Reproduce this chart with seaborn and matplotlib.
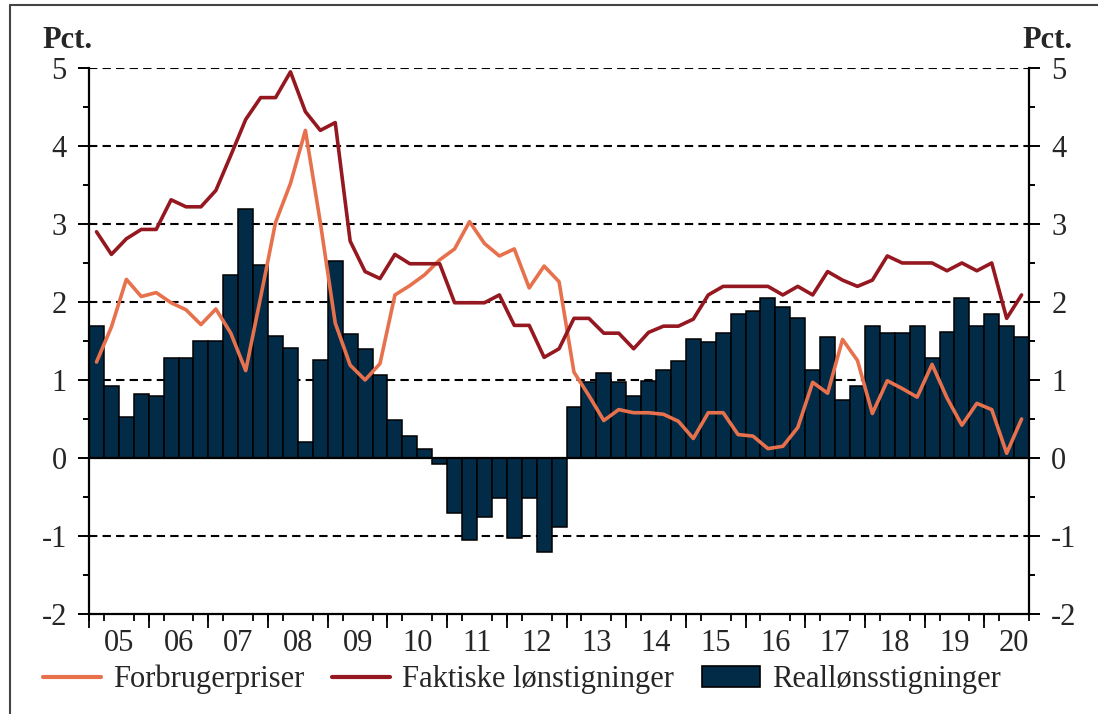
import matplotlib
matplotlib.use("Agg")
import matplotlib.pyplot as plt
from matplotlib.lines import Line2D
from matplotlib.patches import Patch
import numpy as np
import pandas as pd
import seaborn as sns

sns.set_style("ticks")
plt.rcParams['font.family'] = ['Liberation Serif', 'DejaVu Serif']
plt.rcParams['axes.unicode_minus'] = False

# ---------------------------------------------------------------
# Data: quarterly, 2005K1 - 2020K3 (pct. år-til-år)
# ---------------------------------------------------------------
quarters = [f"{y}K{q}" for y in range(2005, 2021) for q in range(1, 5)][:63]

forbrugerpriser = [
    1.23, 1.68, 2.29, 2.07, 2.12, 1.99, 1.90, 1.71, 1.91, 1.60,
    1.12, 2.06, 3.02, 3.52, 4.20, 3.02, 1.73, 1.19, 1.00, 1.21,
    2.09, 2.21, 2.35, 2.54, 2.68, 3.03, 2.75, 2.59, 2.68, 2.18,
    2.46, 2.26, 1.10, 0.80, 0.48, 0.62, 0.58, 0.58, 0.56, 0.47,
    0.25, 0.58, 0.58, 0.30, 0.28, 0.12, 0.15, 0.39, 0.97, 0.83,
    1.52, 1.25, 0.57, 0.99, 0.89, 0.78, 1.20, 0.77, 0.42, 0.70,
    0.62, 0.06, 0.50,
]

faktiske_loen = [
    2.90, 2.61, 2.81, 2.93, 2.93, 3.31, 3.22, 3.22, 3.43, 3.88,
    4.34, 4.62, 4.62, 4.95, 4.44, 4.20, 4.30, 2.78, 2.39, 2.30,
    2.61, 2.49, 2.49, 2.49, 1.99, 1.99, 1.99, 2.09, 1.70, 1.70,
    1.29, 1.40, 1.79, 1.79, 1.60, 1.60, 1.40, 1.61, 1.69, 1.69,
    1.78, 2.09, 2.20, 2.20, 2.20, 2.20, 2.09, 2.20, 2.09, 2.39,
    2.28, 2.20, 2.28, 2.59, 2.50, 2.50, 2.50, 2.40, 2.50, 2.40,
    2.50, 1.79, 2.09,
]

realloen = [
    1.69, 0.92, 0.53, 0.82, 0.79, 1.28, 1.28, 1.50, 1.50, 2.34,
    3.19, 2.47, 1.56, 1.41, 0.21, 1.25, 2.52, 1.59, 1.40, 1.06,
    0.49, 0.285, 0.11, -0.08, -0.71, -1.05, -0.76, -0.51, -1.02, -0.51,
    -1.20, -0.88, 0.65, 0.97, 1.09, 0.98, 0.79, 0.99, 1.13, 1.24,
    1.52, 1.49, 1.60, 1.85, 1.88, 2.05, 1.93, 1.79, 1.13, 1.545,
    0.74, 0.92, 1.69, 1.60, 1.60, 1.69, 1.28, 1.62, 2.05, 1.69,
    1.85, 1.69, 1.545,
]

year_labels = ["05", "06", "07", "08", "09", "10", "11", "12",
               "13", "14", "15", "16", "17", "18", "19", "20"]

df = pd.DataFrame({
    "kvartal": quarters,
    "pos": np.arange(len(quarters)),
    "Forbrugerpriser": forbrugerpriser,
    "Faktiske lønstigninger": faktiske_loen,
    "Reallønsstigninger": realloen,
})

c_orange = "#E8714D"
c_red = "#951820"
c_navy = "#012B46"
fs = 22

fig = plt.figure(figsize=(10.98, 7.14), dpi=100)
ax = fig.add_axes([0.0811, 0.1401, 0.9372 - 0.0811, 0.9048 - 0.1401])

# grid lines behind bars
for g in [-1, 1, 2, 3, 4, 5]:
    ax.axhline(g, color="black", lw=1.5, ls=(0, (4.0, 2.5)), zorder=0)

sns.barplot(data=df, x="pos", y="Reallønsstigninger", native_scale=True,
            width=1.0, color=c_navy, saturation=1, edgecolor="black",
            linewidth=1.1, ax=ax, zorder=2)
ax.axhline(0, color="black", lw=1.6, zorder=3)

sns.lineplot(data=df, x="pos", y="Forbrugerpriser", color=c_orange,
             lw=2.6, ax=ax, zorder=4)
sns.lineplot(data=df, x="pos", y="Faktiske lønstigninger", color=c_red,
             lw=2.6, ax=ax, zorder=5)

ax.set_xlim(-0.5, len(quarters) - 0.5)
ax.set_ylim(-2, 5)
ax.set_xlabel("")
ax.set_ylabel("")

# y axis both sides
ax.set_yticks(range(-2, 6))
ax.set_yticks(np.arange(-2, 5.01, 0.5), minor=True)
ax.tick_params(axis="y", which="both", left=True, right=True,
               labelleft=True, labelright=True, direction="out",
               color="black", width=1.4)
ax.tick_params(axis="y", which="major", length=8, labelsize=fs, pad=8)
ax.tick_params(axis="y", which="minor", length=4)

# x axis: labels at year centres, ticks at quarter boundaries
centers = np.arange(len(year_labels)) * 4 + 1.5
ax.set_xticks(centers)
ax.set_xticklabels(year_labels)
ax.tick_params(axis="x", which="major", length=0, labelsize=fs, pad=11)
ax.set_xticks(np.arange(-0.5, len(quarters), 1), minor=True)
ax.tick_params(axis="x", which="minor", length=5, width=1.3,
               direction="out", color="black")
sec = ax.secondary_xaxis("bottom")
sec.set_xticks(np.arange(-0.5, len(quarters), 4))
sec.tick_params(length=10, width=1.3, labelbottom=False, color="black")
for s in sec.spines.values():
    s.set_visible(False)

sns.despine(ax=ax, top=True, right=False, left=False, bottom=False)
for s in ["left", "right", "bottom"]:
    ax.spines[s].set_linewidth(1.6)
    ax.spines[s].set_color("black")

fig.text(0.039, 0.933, "Pct.", fontsize=22, fontweight="bold", ha="left")
fig.text(0.977, 0.933, "Pct.", fontsize=22, fontweight="bold", ha="right")

handles = [
    Line2D([], [], color=c_orange, lw=3),
    Line2D([], [], color=c_red, lw=3),
    Patch(facecolor=c_navy, edgecolor="black", lw=1.2),
]
labels = ["Forbrugerpriser", "Faktiske lønstigninger", "Reallønsstigninger"]
fig.legend(handles, labels, loc="center left", bbox_to_anchor=(0.039, 0.048),
           ncol=3, frameon=False, fontsize=fs, handlelength=1.9,
           handletextpad=0.4, columnspacing=0.9, borderaxespad=0,
           borderpad=0)

# figure border (top and left)
fig.add_artist(Line2D([0.0095, 0.0095], [0, 0.993], transform=fig.transFigure,
                      color="#444444", lw=1.5))
fig.add_artist(Line2D([0.0095, 1], [0.993, 0.993], transform=fig.transFigure,
                      color="#444444", lw=1.5))

fig.savefig("out.png", dpi=100)
